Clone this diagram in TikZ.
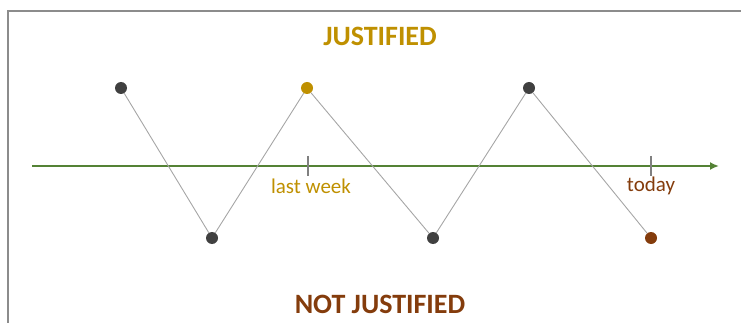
\documentclass[tikz,border=0pt]{standalone}
\usepackage{fontspec}
\setmainfont{Carlito}
\usetikzlibrary{arrows.meta}
\definecolor{gold}{HTML}{BF9000}
\definecolor{brownc}{HTML}{843C0C}
\definecolor{greenc}{HTML}{548235}
\definecolor{dotc}{HTML}{404040}
\definecolor{linec}{HTML}{A6A6A6}
\definecolor{framec}{HTML}{8C8C8C}
\begin{document}
\begin{tikzpicture}[x=1pt,y=-1pt,
  pt/.style={circle,fill=dotc,inner sep=0pt,minimum size=12pt},
  zig/.style={draw=linec,line width=0.9pt},
  tick/.style={draw=gray,line width=2pt},
  lbl/.style={font=\fontsize{21}{24}\selectfont},
  title/.style={font=\bfseries\fontsize{28}{32}\selectfont}]
\useasboundingbox (0,0) rectangle (741,323);
\draw[framec,line width=1.2pt] (8,323) -- (8,11) -- (741,11);
\coordinate (as) at (32,166);
\coordinate (ae) at (719,166);
\draw[greenc,line width=2pt,-{Latex[length=9pt,width=8pt]}] (as) -- (ae);
\coordinate (t1a) at (308,156); \coordinate (t1b) at (308,176);
\coordinate (t2a) at (651,156); \coordinate (t2b) at (651,176);
\draw[tick] (t1a) -- (t1b);
\draw[tick] (t2a) -- (t2b);
\node[pt] (p1) at (121,88) {};
\node[pt] (p2) at (212,238) {};
\node[pt,fill=gold] (p3) at (307,88) {};
\node[pt] (p4) at (433,238) {};
\node[pt] (p5) at (529,88) {};
\node[pt,fill=brownc] (p6) at (651,238) {};
\draw[zig] (p1) -- (p2) -- (p3) -- (p4) -- (p5) -- (p6);
\node[lbl,text=gold] (lw) at (311,186) {last week};
\node[lbl,text=brownc] (td) at (651,186) {today};
\node[title,text=gold] (j) at (380,36) {JUSTIFIED};
\node[title,text=brownc] (nj) at (380,304) {NOT JUSTIFIED};
\end{tikzpicture}
\end{document}
